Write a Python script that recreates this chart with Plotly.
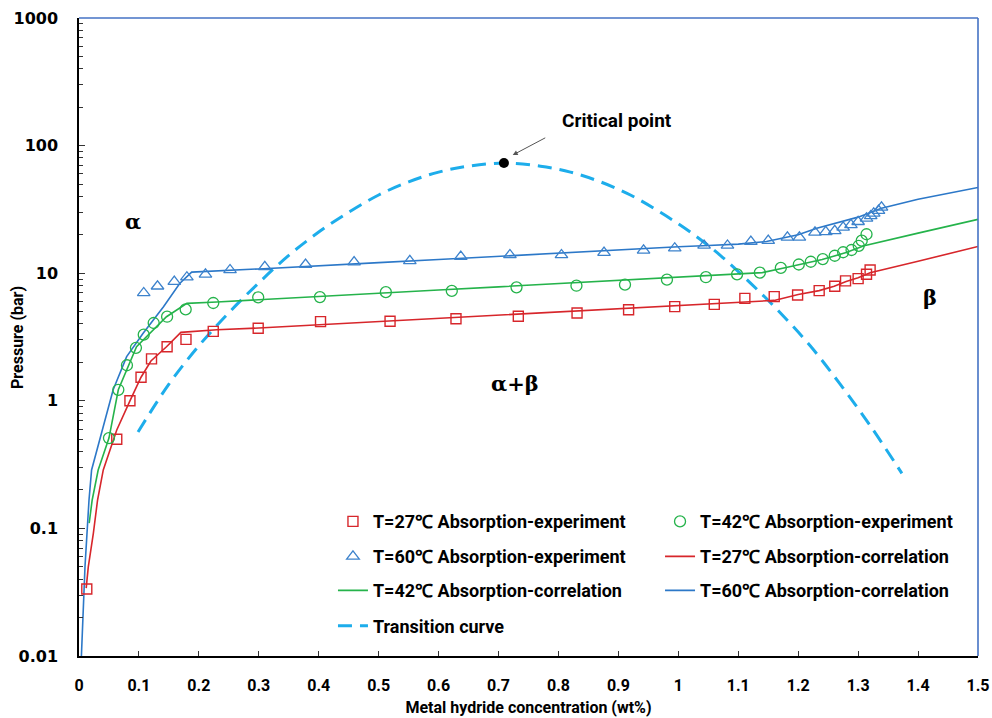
import plotly.graph_objects as go

# ---------------- data ----------------
# T=27 C absorption experiment
x27 = [0.013, 0.063, 0.085, 0.1035, 0.121, 0.147, 0.1785, 0.224, 0.299, 0.403, 0.519, 0.629,
       0.733, 0.831, 0.917, 0.994, 1.060, 1.111, 1.160, 1.199, 1.235, 1.261, 1.279, 1.300, 1.314, 1.320]
p27 = [0.0335, 0.50, 1.0, 1.53, 2.13, 2.65, 3.03, 3.5, 3.7, 4.17, 4.2, 4.4,
       4.6, 4.87, 5.17, 5.47, 5.7, 6.35, 6.55, 6.75, 7.3, 7.9, 8.7, 9.06, 9.8, 10.6]

# T=42 C absorption experiment
x42 = [0.050, 0.0656, 0.080, 0.095, 0.108, 0.1246, 0.147, 0.178, 0.224, 0.299, 0.402, 0.512,
       0.622, 0.730, 0.830, 0.911, 0.981, 1.046, 1.098, 1.136, 1.171, 1.201, 1.221, 1.241, 1.261,
       1.275, 1.289, 1.301, 1.306, 1.314]
p42 = [0.51, 1.22, 1.9, 2.6, 3.3, 4.07, 4.56, 5.2, 5.84, 6.47, 6.5, 7.1,
       7.26, 7.75, 7.98, 8.13, 8.9, 9.3, 9.8, 10.1, 11.0, 11.7, 12.3, 12.9, 13.7,
       14.6, 15.2, 16.4, 18.0, 20.2]

# T=60 C absorption experiment
x60 = [0.108, 0.131, 0.159, 0.180, 0.211, 0.252, 0.310, 0.378, 0.459, 0.552, 0.637, 0.719,
       0.805, 0.876, 0.942, 0.994, 1.043, 1.082, 1.121, 1.150, 1.182, 1.202, 1.228, 1.246,
       1.261, 1.275, 1.288, 1.300, 1.314, 1.321, 1.326, 1.334, 1.339]
p60 = [7.0, 7.9, 8.6, 9.3, 9.8, 10.6, 11.2, 11.7, 12.2, 12.5, 13.5, 13.9,
       13.9, 14.5, 15.1, 15.7, 16.5, 16.5, 17.7, 18.0, 19.1, 19.1, 20.9, 21.1,
       21.5, 22.9, 23.9, 25.3, 26.9, 28.1, 29.4, 30.9, 32.8]

# correlations
xc27 = [0.012, 0.0155, 0.024, 0.031, 0.0405, 0.063, 0.085, 0.1035, 0.12, 0.146, 0.17, 0.23,
        0.3, 0.4, 0.5, 0.6, 0.7, 0.8, 0.9, 1.0, 1.1, 1.16, 1.2, 1.235, 1.26, 1.28, 1.30,
        1.32, 1.4, 1.5]
pc27 = [0.034, 0.05, 0.092, 0.167, 0.287, 0.59, 1.0, 1.53, 2.05, 2.65, 3.44, 3.6,
        3.72, 3.94, 4.18, 4.43, 4.69, 4.97, 5.27, 5.58, 5.92, 6.12, 6.8, 7.3, 7.9, 8.6, 9.2,
        10.1, 12.4, 16.2]

xc42 = [0.017, 0.022, 0.032, 0.05, 0.0656, 0.096, 0.146, 0.18, 0.23, 0.3, 0.4, 0.5, 0.6,
        0.7, 0.8, 0.9, 1.0, 1.1, 1.14, 1.18, 1.2, 1.24, 1.28, 1.31, 1.4, 1.5]
pc42 = [0.11, 0.167, 0.287, 0.51, 1.22, 2.65, 4.56, 5.8, 5.95, 6.21, 6.58, 6.97, 7.38,
        7.82, 8.28, 8.78, 9.3, 9.86, 10.1, 11.1, 11.6, 12.8, 14.5, 16.4, 20.6, 26.4]

xc60 = [0.004, 0.010, 0.0167, 0.021, 0.057, 0.0795, 0.107, 0.141, 0.168, 0.188, 0.3, 0.4,
        0.5, 0.6, 0.7, 0.8, 0.9, 1.0, 1.05, 1.1, 1.147, 1.2, 1.231, 1.3, 1.339, 1.4, 1.5]
pc60 = [0.01, 0.05, 0.167, 0.287, 1.22, 2.22, 3.38, 5.46, 8.3, 10.2, 10.8, 11.5,
        12.1, 12.8, 13.6, 14.4, 15.2, 16.1, 16.5, 16.9, 17.7, 20.0, 22.5, 27.5, 32.3, 38.0, 47.0]

# transition curve
xt = [0.0985, 0.15, 0.2, 0.25, 0.3, 0.35, 0.4, 0.45, 0.5, 0.55, 0.6, 0.65, 0.71,
      0.77, 0.82, 0.87, 0.92, 0.97, 1.02, 1.07, 1.12, 1.17, 1.22, 1.27, 1.32, 1.373]
pt = [0.57, 1.35, 2.7, 4.9, 8.4, 13.8, 21.0, 30, 41, 52, 62, 69, 73,
      69, 62, 52, 41, 30, 21.0, 13.8, 8.4, 4.9, 2.7, 1.35, 0.64, 0.27]

# critical point
xcp = [0.709]
pcp = [73]

names = ["T=27℃ Absorption-experiment", "T=42℃ Absorption-experiment",
         "T=60℃ Absorption-experiment", "T=27℃ Absorption-correlation",
         "T=42℃ Absorption-correlation", "T=60℃ Absorption-correlation",
         "Transition curve"]

RED = "#D7262B"
GREEN = "#25B34B"
BLUE_L = "#2C78C8"
BLUE_M = "#3C82CC"
CYAN = "#1DADEB"

fig = go.Figure()

fig.add_trace(go.Scatter(x=xt, y=pt, mode="lines", name=names[6], legend="legend7",
                         line=dict(color=CYAN, width=3, dash="14px,8px", shape="spline")))
fig.add_trace(go.Scatter(x=xc27, y=pc27, mode="lines", name=names[3], legend="legend4",
                         line=dict(color=RED, width=1.6)))
fig.add_trace(go.Scatter(x=xc42, y=pc42, mode="lines", name=names[4], legend="legend5",
                         line=dict(color=GREEN, width=1.6)))
fig.add_trace(go.Scatter(x=xc60, y=pc60, mode="lines", name=names[5], legend="legend6",
                         line=dict(color=BLUE_L, width=1.6)))
fig.add_trace(go.Scatter(x=x27, y=p27, mode="markers", name=names[0], legend="legend",
                         marker=dict(symbol="square-open", size=10, color=RED, line=dict(width=1.4))))
fig.add_trace(go.Scatter(x=x42, y=p42, mode="markers", name=names[1], legend="legend2",
                         marker=dict(symbol="circle-open", size=11, color=GREEN, line=dict(width=1.3))))
fig.add_trace(go.Scatter(x=x60, y=p60, mode="markers", name=names[2], legend="legend3",
                         marker=dict(symbol="triangle-up-open", size=11, color=BLUE_M, line=dict(width=1.3))))
fig.add_trace(go.Scatter(x=xcp, y=pcp, mode="markers", showlegend=False,
                         marker=dict(symbol="circle", size=10, color="black")))

FAM = "Roboto, Liberation Sans, sans-serif"
LFONT = dict(family=FAM, size=18, color="black", weight="bold")

COL_X = [0.2825, 0.6463]
ROW_Y = [0.2105, 0.1557, 0.1024, 0.047]


def leg(col, row):
    return dict(orientation="h", x=COL_X[col], y=ROW_Y[row], xanchor="left", yanchor="middle",
                font=LFONT, bgcolor="rgba(0,0,0,0)", borderwidth=0, itemwidth=30)


tickvals_y = [0.01, 0.1, 1, 10, 100, 1000]
ticktext_y = ["0.01", "0.1", "1", "10", "100", "1000"]
minor_y = [k * 10.0 ** e for e in range(-2, 3) for k in range(2, 10)]

fig.update_layout(
    width=992, height=718,
    margin=dict(l=79, r=14, t=18, b=62),
    paper_bgcolor="white", plot_bgcolor="white",
    showlegend=True,
    legend=leg(0, 0), legend2=leg(1, 0),
    legend3=leg(0, 1), legend4=leg(1, 1),
    legend5=leg(0, 2), legend6=leg(1, 2),
    legend7=leg(0, 3),
    xaxis=dict(range=[0, 1.5], dtick=0.1, tick0=0, showgrid=False, zeroline=False,
               automargin=False,
               showline=True, linecolor="black", linewidth=1.5,
               ticks="inside", ticklen=5, tickwidth=1.2, tickcolor="#333",
               tickfont=dict(family=FAM, size=16, color="black", weight="bold"),
               ticklabelstandoff=14,
               title=dict(text="Metal hydride concentration (wt%)", standoff=8,
                          font=dict(family=FAM, size=16, color="black", weight="bold"))),
    yaxis=dict(type="log", range=[-2, 3], tickvals=tickvals_y, ticktext=ticktext_y,
               showgrid=False, zeroline=False, automargin=False,
               showline=True, linecolor="black", linewidth=1.5,
               ticks="inside", ticklen=6, tickwidth=1.2, tickcolor="#333",
               minor=dict(tickvals=minor_y, ticks="inside", ticklen=4, tickwidth=1, tickcolor="#333", showgrid=False),
               tickfont=dict(family="DejaVu Sans, sans-serif", size=16, color="black", weight="bold"),
               ticklabelstandoff=16),
)

fig.add_shape(type="line", xref="paper", yref="paper", x0=0, x1=1, y0=1, y1=1,
              line=dict(color="#4472C4", width=1.6))
fig.add_shape(type="line", xref="paper", yref="paper", x0=1, x1=1, y0=0, y1=1,
              line=dict(color="#4472C4", width=1.6))

# y-axis title
fig.add_annotation(xref="paper", yref="paper", x=-0.069, y=0.5, text="Pressure (bar)",
                   textangle=-90, showarrow=False, xanchor="center", yanchor="middle",
                   font=dict(family=FAM, size=16, color="black", weight="bold"))

SFONT = dict(family="DejaVu Serif, Liberation Serif, serif", size=21, color="black", weight="bold")
fig.add_annotation(x=0.090, y=1.409, text="α", showarrow=False, font=SFONT)
fig.add_annotation(x=1.42, y=0.8135, text="β", showarrow=False, font=SFONT)
fig.add_annotation(x=0.7275, y=0.139, text="α+β", showarrow=False, font=SFONT)
fig.add_annotation(x=0.8977, y=2.193, text="Critical point", showarrow=False,
                   font=dict(family=FAM, size=19, color="black", weight="bold"))
fig.add_annotation(x=0.7237, y=1.926, text="", showarrow=True, ax=34, ay=-18,
                   arrowhead=2, arrowsize=1, arrowwidth=1, arrowcolor="#555")

# remove the default 8px page margin so the figure fills the window exactly
fig.write_html("out.html", config={"displayModeBar": False},
               post_script="document.body.style.margin='0';document.body.style.overflow='hidden';")
